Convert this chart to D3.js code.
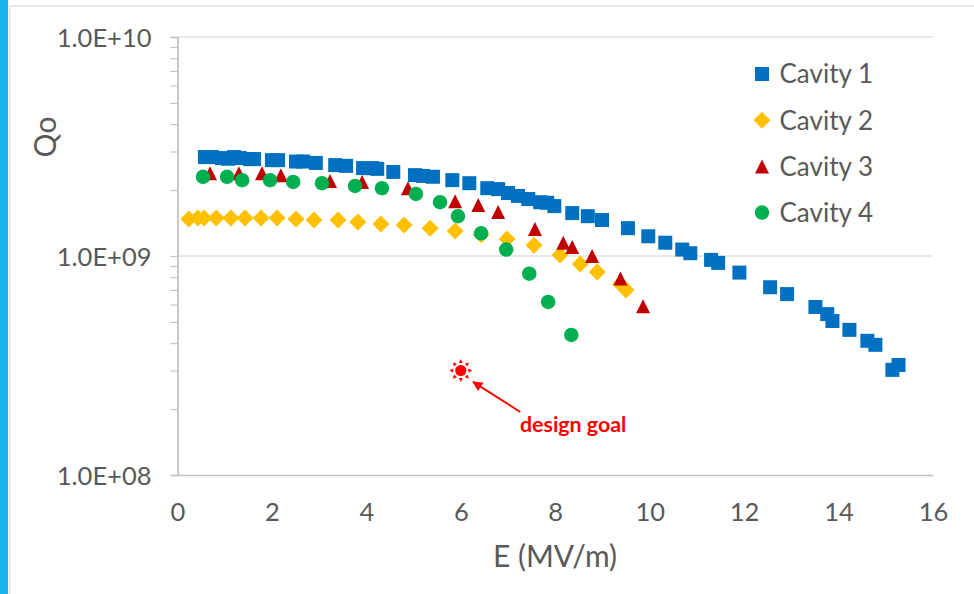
<!DOCTYPE html>
<html>
<head>
<meta charset="utf-8">
<script src="https://cdn.jsdelivr.net/npm/d3@7"></script>
<style>
  html, body { margin: 0; padding: 0; background: #fff; }
  svg { display: block; }
  text { font-family: Lato, "Open Sans", sans-serif; fill: #595959; }
  .axis .domain { stroke: #c4c4c4; stroke-width: 1.5; }
  .axis line { stroke: #c4c4c4; stroke-width: 1.2; }
</style>
</head>
<body>
<svg width="974" height="594"></svg>
<script>
// values: E in MV/m, Q in units of 1e9
const cavity1E = [0.58, 0.73, 0.94, 1.07, 1.20, 1.32, 1.54, 1.62, 2.0, 2.13, 2.51, 2.66, 2.93, 3.34, 3.57, 3.93, 4.12, 4.23, 4.57, 5.03, 5.20, 5.41, 5.82, 6.18, 6.56, 6.79, 7.0, 7.21, 7.43, 7.68, 7.83, 7.98, 8.36, 8.69, 8.99, 9.54, 9.97, 10.33, 10.69, 10.86, 11.30, 11.45, 11.90, 12.55, 12.91, 13.51, 13.76, 13.87, 14.23, 14.61, 14.78, 15.14, 15.27];
const cavity1Q = [2.83, 2.83, 2.80, 2.78, 2.83, 2.80, 2.77, 2.77, 2.74, 2.74, 2.70, 2.70, 2.66, 2.60, 2.58, 2.52, 2.52, 2.50, 2.42, 2.34, 2.32, 2.30, 2.22, 2.15, 2.04, 2.02, 1.94, 1.88, 1.82, 1.76, 1.75, 1.69, 1.57, 1.52, 1.46, 1.34, 1.23, 1.15, 1.07, 1.03, 0.96, 0.93, 0.84, 0.72, 0.67, 0.585, 0.543, 0.505, 0.46, 0.41, 0.393, 0.302, 0.318];

const cavity2E = [0.24, 0.43, 0.56, 0.82, 1.13, 1.43, 1.77, 2.11, 2.51, 2.89, 3.40, 3.82, 4.31, 4.80, 5.35, 5.88, 6.43, 6.98, 7.55, 8.10, 8.53, 8.89, 9.38, 9.50];
const cavity2Q = [1.476, 1.49, 1.49, 1.49, 1.49, 1.49, 1.49, 1.49, 1.476, 1.46, 1.46, 1.43, 1.40, 1.385, 1.34, 1.30, 1.25, 1.196, 1.12, 1.01, 0.92, 0.845, 0.745, 0.70];

const cavity3E = [0.69, 1.30, 1.79, 2.19, 3.23, 3.91, 4.88, 5.88, 6.37, 6.79, 7.57, 8.17, 8.36, 8.78, 9.38, 9.86];
const cavity3Q = [2.39, 2.39, 2.39, 2.34, 2.20, 2.18, 2.04, 1.78, 1.71, 1.59, 1.33, 1.15, 1.10, 1.0, 0.79, 0.59];

const cavity4E = [0.54, 1.05, 1.37, 1.96, 2.45, 3.06, 3.76, 4.33, 5.05, 5.56, 5.94, 6.43, 6.96, 7.45, 7.85, 8.34];
const cavity4Q = [2.30, 2.30, 2.22, 2.22, 2.18, 2.15, 2.09, 2.04, 1.92, 1.76, 1.52, 1.27, 1.07, 0.83, 0.617, 0.436];

const goalE = 6.0;
const goalQ = 0.3;

const xTicks = [0, 2, 4, 6, 8, 10, 12, 14, 16];
const yLabelled = [1e8, 1e9, 1e10];
const yMinor = [2e8, 3e8, 4e8, 5e8, 6e8, 7e8, 8e8, 9e8, 2e9, 3e9, 4e9, 5e9, 6e9, 7e9, 8e9, 9e9];

const seriesNames = ['Cavity 1', 'Cavity 2', 'Cavity 3', 'Cavity 4'];

const svg = d3.select('svg');

// slide frame
svg.append('rect').attr('x', 0).attr('y', 0).attr('width', 8).attr('height', 594).attr('fill', '#19b5f1');
svg.append('line').attr('x1', 9.5).attr('x2', 9.5).attr('y1', 6).attr('y2', 594).attr('stroke', '#e2e2e2').attr('stroke-width', 1.5);
svg.append('line').attr('x1', 9).attr('x2', 974).attr('y1', 6).attr('y2', 6).attr('stroke', '#e2e2e2').attr('stroke-width', 1.5);

const x = d3.scaleLinear().domain([0, 16]).range([177.5, 933]);
const y = d3.scaleLog().domain([1e8, 1e10]).range([475, 37]);

// gridlines
svg.append('g')
  .selectAll('line')
  .data(yLabelled.slice(1))
  .join('line')
  .attr('x1', x(0))
  .attr('x2', x(16))
  .attr('y1', d => y(d))
  .attr('y2', d => y(d))
  .attr('stroke', '#e0e0e0')
  .attr('stroke-width', 1.5);

// y axis, minor ticks first
svg.append('g')
  .attr('class', 'axis')
  .attr('transform', `translate(${x(0)},0)`)
  .call(d3.axisLeft(y).tickValues(yMinor).tickSize(7).tickFormat(''))
  .call(g => g.select('.domain').attr('stroke-width', 1.5));

svg.append('g')
  .attr('class', 'axis')
  .attr('transform', `translate(${x(0)},0)`)
  .call(d3.axisLeft(y).tickValues(yLabelled).tickSize(7).tickSizeOuter(0).tickPadding(19)
    .tickFormat(d => '1.0E+' + String(Math.round(Math.log10(d))).padStart(2, '0')))
  .call(g => g.selectAll('text').attr('font-size', 25.5).attr('dy', '0.36em'))
  .call(g => g.attr('font-family', null));

// x axis
svg.append('g')
  .attr('class', 'axis')
  .attr('transform', `translate(0,${y(1e8)})`)
  .call(d3.axisBottom(x).tickValues(xTicks).tickSize(0).tickPadding(38).tickSizeOuter(0))
  .call(g => g.selectAll('text').attr('font-size', 25.5).attr('dy', '0.3em'))
  .call(g => g.attr('font-family', null));

// axis titles
svg.append('text')
  .attr('transform', 'translate(56,137) rotate(-90)')
  .attr('text-anchor', 'middle')
  .attr('font-size', 30)
  .text('Qo');

svg.append('text')
  .attr('x', 555)
  .attr('y', 567)
  .attr('text-anchor', 'middle')
  .attr('font-size', 30)
  .text('E (MV/m)');

// markers
const squareMark = d3.symbol().type(d3.symbolSquare).size(196)();
const diamondMark = d3.symbol().type({
  draw(ctx, size) {
    const r = Math.sqrt(size);
    ctx.moveTo(0, -r); ctx.lineTo(r, 0); ctx.lineTo(0, r); ctx.lineTo(-r, 0); ctx.closePath();
  }
}).size(72)();
const triangleMark = d3.symbol().type({
  draw(ctx, size) {
    const r = Math.sqrt(size);
    ctx.moveTo(0, -r); ctx.lineTo(r, r); ctx.lineTo(-r, r); ctx.closePath();
  }
}).size(49)();
const circleMark = d3.symbol().type(d3.symbolCircle).size(165)();

const seriesMarks = [squareMark, diamondMark, triangleMark, circleMark];
const seriesColors = ['#0070c0', '#ffc000', '#c00000', '#00b050'];
const seriesE = [cavity1E, cavity2E, cavity3E, cavity4E];
const seriesQ = [cavity1Q, cavity2Q, cavity3Q, cavity4Q];

seriesE.forEach((es, i) => {
  svg.append('g')
    .selectAll('path')
    .data(es.map((e, k) => [e, seriesQ[i][k] * 1e9]))
    .join('path')
    .attr('d', seriesMarks[i])
    .attr('fill', seriesColors[i])
    .attr('transform', d => `translate(${x(d[0])},${y(d[1])})`);
});

// legend
const legend = svg.append('g')
  .selectAll('g')
  .data(seriesNames)
  .join('g')
  .attr('transform', (d, i) => `translate(762,${74 + i * 46.2})`);

legend.append('path')
  .attr('d', (d, i) => seriesMarks[i])
  .attr('fill', (d, i) => seriesColors[i]);

legend.append('text')
  .attr('x', 17.5)
  .attr('dy', '0.36em')
  .attr('font-size', 26)
  .text(d => d);

// design goal sun
const sun = svg.append('g')
  .attr('transform', `translate(${x(goalE)},${y(goalQ * 1e9)})`)
  .attr('fill', '#ff0000');
sun.append('circle').attr('r', 5.6);
sun.selectAll('path')
  .data(d3.range(8))
  .join('path')
  .attr('d', 'M-2,-7.5L2,-7.5L0,-11.5Z')
  .attr('transform', d => `rotate(${d * 45})`);

// arrow and label
svg.append('defs').append('marker')
  .attr('id', 'arrowhead')
  .attr('viewBox', '0 0 10 10')
  .attr('refX', 9)
  .attr('refY', 5)
  .attr('markerWidth', 5.5)
  .attr('markerHeight', 5)
  .attr('orient', 'auto')
  .append('path')
  .attr('d', 'M0,0L10,5L0,10Z')
  .attr('fill', '#ff0000');

svg.append('line')
  .attr('x1', x(7.26))
  .attr('y1', y(1.94e8))
  .attr('x2', x(6.26))
  .attr('y2', y(2.66e8))
  .attr('stroke', '#ff0000')
  .attr('stroke-width', 2)
  .attr('marker-end', 'url(#arrowhead)');

svg.append('text')
  .attr('x', x(8.38))
  .attr('y', y(1.7e8))
  .attr('dy', '0.36em')
  .attr('text-anchor', 'middle')
  .attr('font-size', 21.4)
  .attr('font-weight', 700)
  .style('fill', '#ff0000')
  .text('design goal');
</script>
</body>
</html>
